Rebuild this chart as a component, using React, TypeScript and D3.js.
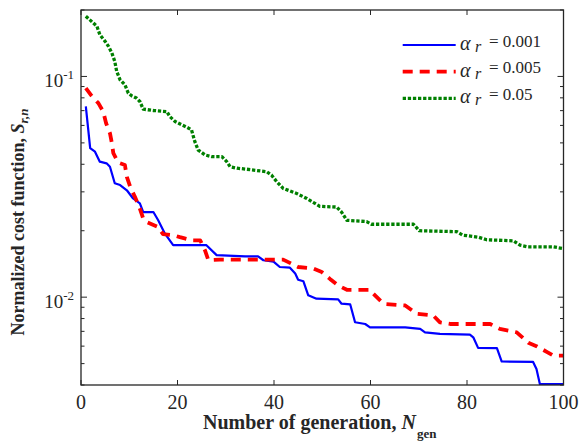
import * as d3 from "d3";

// generation ticks and log ticks
const genTicks = [0, 20, 40, 60, 80, 100];
const decades = [0.01, 0.1];
const decadeExp = ["-2", "-1"];
const minorTicks = [0.004, 0.005, 0.006, 0.007, 0.008, 0.009, 0.02, 0.03, 0.04, 0.05, 0.06, 0.07, 0.08, 0.09, 0.2];

const legendValues = ["0.001", "0.005", "0.05"];

// [generation, normalized cost]
const costA001: [number, number][] = [
  [1, 0.0731], [1.9, 0.0473], [2.9, 0.0456], [3.9, 0.0411], [5.3, 0.0404], [6, 0.039],
  [7, 0.0328], [8.1, 0.0322], [9.5, 0.0305], [10.8, 0.028], [12.2, 0.0266], [12.9, 0.0243],
  [15, 0.0243], [16, 0.0223], [17.4, 0.0194], [19.1, 0.0172], [26, 0.0172], [28.1, 0.0155],
  [34, 0.0153], [36.7, 0.0153], [37.8, 0.0147], [39.9, 0.0145], [41.2, 0.0137], [43.3, 0.0136],
  [44.4, 0.0128], [45, 0.012], [46.1, 0.0118], [47.1, 0.0102], [48.8, 0.00984], [53.3, 0.00977],
  [54, 0.00934], [55.8, 0.00927], [56.8, 0.0077], [58.9, 0.00756], [59.9, 0.0073], [67.2, 0.0073],
  [70.3, 0.00718], [71.3, 0.00693], [74.4, 0.00682], [80.6, 0.00677], [81.3, 0.00658], [82.3, 0.00589],
  [86.2, 0.00588], [87.2, 0.00511], [93.7, 0.00509], [94.4, 0.00473], [95.1, 0.00404], [100, 0.00404],
];

const costA005: [number, number][] = [
  [1, 0.0886], [2.2, 0.0817], [3.6, 0.0757], [4.6, 0.0693], [5.2, 0.0614], [6, 0.0553],
  [6.4, 0.0498], [6.7, 0.0449], [7.7, 0.0407], [9.1, 0.0397], [9.5, 0.0351], [10.2, 0.0316],
  [11.2, 0.0284], [12.2, 0.0252], [12.9, 0.0227], [13.6, 0.0219], [16, 0.0208], [17, 0.0193],
  [19.1, 0.0191], [20.5, 0.0187], [22.9, 0.0181], [24.7, 0.0181], [25.7, 0.0163], [26.4, 0.0147],
  [28.8, 0.0148], [41.9, 0.0148], [45, 0.0137], [48.1, 0.0135], [49.9, 0.013], [51.6, 0.0121],
  [53.3, 0.0113], [55.1, 0.0108], [59.9, 0.0108], [60.6, 0.01035], [62.7, 0.00933], [67.2, 0.00917],
  [69.6, 0.00841], [73, 0.00826], [74.4, 0.00769], [76.5, 0.00756], [84.8, 0.00756], [86.8, 0.00718],
  [90.3, 0.00693], [92.7, 0.00622], [94.4, 0.006], [96.8, 0.00561], [97.9, 0.00543], [100, 0.00543],
];

const costA05: [number, number][] = [
  [1, 0.1875], [2.5, 0.175], [3.3, 0.1687], [3.9, 0.1547], [5, 0.1442], [5.7, 0.1369],
  [6.4, 0.1277], [7, 0.117], [7.4, 0.1054], [8.1, 0.0966], [9.1, 0.0917], [9.8, 0.084],
  [10.5, 0.0817], [11.5, 0.0798], [12.2, 0.077], [12.9, 0.0711], [15, 0.0701], [17.8, 0.0693],
  [18.4, 0.0658], [19.5, 0.0625], [20.9, 0.0603], [21.9, 0.0589], [22.9, 0.0573], [23.6, 0.0506],
  [24.3, 0.0464], [25.7, 0.0441], [27.1, 0.0433], [29.2, 0.0433], [30.2, 0.0411], [30.9, 0.039],
  [32.3, 0.0384], [34.3, 0.038], [38.5, 0.037], [39.5, 0.0357], [40.6, 0.0333], [41.9, 0.0311],
  [44.7, 0.0295], [46.8, 0.028], [48.1, 0.0269], [49.5, 0.0258], [53, 0.0256], [54, 0.0243],
  [55.1, 0.0223], [59.2, 0.022], [60.2, 0.0214], [68.9, 0.0214], [70.1, 0.02], [77.9, 0.0198],
  [79.1, 0.0191], [82.3, 0.0187], [84.1, 0.0182], [89.6, 0.018], [91, 0.0172], [92.6, 0.0169],
  [97.9, 0.0169], [100, 0.0166],
];

const series = [
  { data: costA001, color: "#0000ff", width: 2.2, dash: "none" },
  { data: costA005, color: "#ff0000", width: 3.8, dash: "10,7" },
  { data: costA05, color: "#008000", width: 3.3, dash: "3.3,1.8" },
];

export default function App() {
  const width = 579, height = 441;
  const left = 81, right = 563.5, top = 10, bottom = 385;
  const font = "Liberation Serif, Times New Roman, serif";
  const ink = "#262626";

  const x = d3.scaleLinear([0, 100], [left, right]);
  const y = d3.scaleLog([0.004, 0.2], [bottom, top]);
  const line = d3.line<[number, number]>()
    .x(d => x(d[0]))
    .y(d => y(d[1]));

  return (
    <svg width={width} height={height} style={{ position: "absolute", left: 0, top: 0, background: "#fff" }}
         fontFamily={font}>
      <defs>
        <clipPath id="plot">
          <rect x={left} y={top} width={right - left} height={bottom - top}/>
        </clipPath>
      </defs>
      <rect width={width} height={height} fill="#fff"/>

      <g clipPath="url(#plot)" fill="none">
        {series.map((s, i) => (
          <path key={i} d={line(s.data) ?? ""} stroke={s.color} strokeWidth={s.width}
                strokeDasharray={s.dash} strokeLinejoin="round"/>
        ))}
      </g>

      {/* frame and inward ticks */}
      <g stroke={ink} strokeWidth={1}>
        {genTicks.map(t => (
          <g key={t}>
            <line x1={x(t)} x2={x(t)} y1={bottom} y2={bottom - 5}/>
            <line x1={x(t)} x2={x(t)} y1={top} y2={top + 5}/>
          </g>
        ))}
        {decades.map(t => (
          <g key={t}>
            <line x1={left} x2={left + 6} y1={y(t)} y2={y(t)}/>
            <line x1={right} x2={right - 6} y1={y(t)} y2={y(t)}/>
          </g>
        ))}
        {minorTicks.map(t => (
          <g key={t}>
            <line x1={left} x2={left + 3.5} y1={y(t)} y2={y(t)}/>
            <line x1={right} x2={right - 3.5} y1={y(t)} y2={y(t)}/>
          </g>
        ))}
        <rect x={left} y={top} width={right - left} height={bottom - top} fill="none" strokeWidth={1.3}/>
      </g>

      {/* tick labels */}
      <g fill={ink} fontSize={20} textAnchor="middle">
        {genTicks.map(t => (
          <text key={t} x={x(t)} y={bottom + 24}>{t}</text>
        ))}
      </g>
      <g fill={ink} textAnchor="end">
        {decades.map((t, i) => (
          <text key={t} x={left - 7} y={y(t) + 10.5} fontSize={19}>
            10<tspan fontSize={13} dy={-7.5}>{decadeExp[i]}</tspan>
          </text>
        ))}
      </g>

      {/* axis titles */}
      <text x={203} y={429} fontSize={20} fontWeight="bold" fill={ink}>
        Number of generation, <tspan fontStyle="italic">N</tspan>
        <tspan fontSize={13} dx={1} dy={9}>gen</tspan>
      </text>
      <text transform="translate(23.5,222) rotate(-90)" textAnchor="middle" fontSize={18}
            fontWeight="bold" fill={ink}>
        Normalized cost function, <tspan fontStyle="italic">S</tspan>
        <tspan fontStyle="italic" fontSize={13} dy={4}>r,n</tspan>
      </text>

      {/* legend */}
      {series.map((s, i) => {
        const ly = 45 + i * 26.7;
        return (
          <g key={i}>
            <line x1={402.7} x2={455.7} y1={ly} y2={ly} stroke={s.color} strokeWidth={s.width}
                  strokeDasharray={s.dash}/>
            <text x={460} y={ly + 5} fontSize={20} fontStyle="italic" fill={ink}>α</text>
            <text x={475} y={ly + 7} fontSize={16} fontStyle="italic" fill={ink}>r</text>
            <text x={489} y={ly + 1.5} fontSize={17} fill={ink}>= {legendValues[i]}</text>
          </g>
        );
      })}
    </svg>
  );
}
